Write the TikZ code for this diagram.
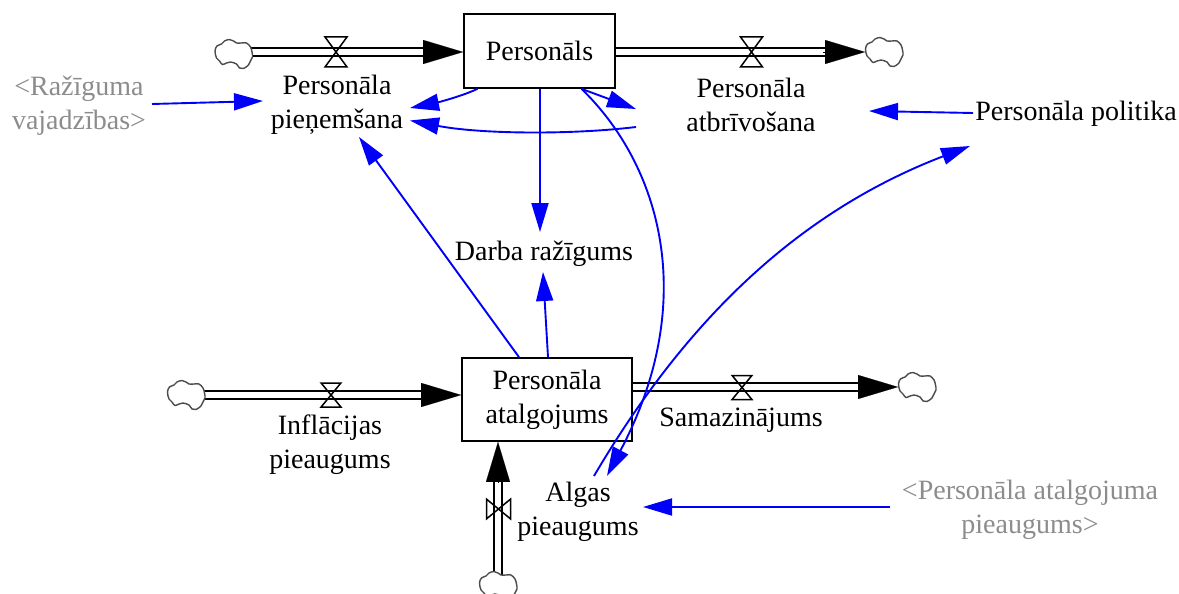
\documentclass[tikz,border=0pt]{standalone}
\usepackage{fontspec}
\setmainfont{Liberation Serif}
\usetikzlibrary{arrows.meta,calc}
\definecolor{infblue}{RGB}{0,0,250}
\definecolor{shadowtxt}{RGB}{140,140,140}
\tikzset{
  lbl/.style={align=center,inner sep=0pt,text=black,font=\fontsize{28}{34}\selectfont},
  shadow/.style={lbl,text=shadowtxt},
  stockbox/.style={draw=black,line width=1.7pt,fill=white,inner sep=0pt,lbl},
  pipe/.style={draw=black,line width=1.7pt,double=white,double distance=5.8pt},
  pipetip/.style={line width=0.1pt,-{Triangle[length=40pt,width=24pt]},black},
  inf/.style={draw=infblue,line width=1.9pt,-{Triangle[length=29pt,width=17pt]}},
  cloudpic/.pic={
    \draw[line width=1.4pt,draw=black!70,fill=white] plot[smooth cycle,tension=0.6] coordinates
      {(-18.5,-3) (-16.5,-8) (-12,-10) (-9,-13) (-4,-14.5) (0,-13) (3,-11) (8,-11) (13,-11) (17,-7) (18.5,-2)
       (19,3) (17,7) (15,11) (10,14.5) (6,14) (3,10) (-3,8) (-7,9) (-11,10.5) (-14,7) (-17,4)};
  },
  valvepic/.pic={
    \draw[line width=1.5pt,draw=black,fill=none,line join=miter]
      (-11,-15) -- (11,-15) -- (-11,15) -- (11,15) -- cycle;
  },
}
\begin{document}
\begin{tikzpicture}[x=1pt,y=-1pt]
\useasboundingbox (0,0) rectangle (1179,594);
\clip (0,0) rectangle (1179,594);

% stocks
\node[stockbox,minimum width=151pt,minimum height=74pt] (pers) at (539.5,51) {Personāls};
\node[stockbox,minimum width=170pt,minimum height=83pt] (alg) at (547,399.5) {Personāla\\atalgojums};

% labels
\node[lbl] (pien) at (337,105) {Personāla\\pieņemšana};
\node[lbl] (atbr) at (751,105) {Personāla\\atbrīvošana};
\node[lbl] (pol) at (1076,114) {Personāla politika};
\node[lbl] (darb) at (544,254) {Darba ražīgums};
\node[lbl] (infl) at (330,445) {Inflācijas\\pieaugums};
\node[lbl] (sam) at (741,420) {Samazinājums};
\node[lbl] (algp) at (578,512) {Algas\\pieaugums};
\node[shadow] (razv) at (79,106) {<Ražīguma\\vajadzības>};
\node[shadow] (alpa) at (1030,510) {<Personāla atalgojuma\\pieaugums>};

% clouds
\coordinate (c1) at (233.5,54);
\coordinate (c2) at (884,52);
\coordinate (c3) at (186,395);
\coordinate (c4) at (917,387);
\coordinate (c5) at (498,586);
\coordinate (t1) at (636,127);

% pipes
\draw[pipe] (c1 |- 0,52) -- (428,52);
\draw[pipe] (pers.east |- 0,52) -- (827,52);
\draw[pipe] (c3) -- (424,395);
\draw[pipe] (alg.east |- c4) -- (860,387);
\draw[pipe] (c5 -| 498,0) -- (498,481);
\draw[pipetip] (424,52) -- (pers.west |- 0,52);
\draw[pipetip] (823,52) -- (c2 -| 865,0);
\draw[pipetip] (422,395) -- (alg.west |- c3);
\draw[pipetip] (858,387) -- (c4 -| 898,0);
\draw[pipetip] (498,483) -- (alg.south -| 498,0);

\pic at (c1) {cloudpic};
\pic at (c2) {cloudpic};
\pic at (c3) {cloudpic};
\pic at (c4) {cloudpic};
\pic at (c5) {cloudpic};

% valves
\pic at (336,52) {valvepic};
\pic at (751.5,52) {valvepic};
\pic[xscale=0.9,yscale=0.8] at (331,395) {valvepic};
\pic[xscale=0.9,yscale=0.8] at (742,387.5) {valvepic};
\pic[rotate=90,yscale=0.8,xscale=0.9] at (498.5,509) {valvepic};

% information links
\draw[inf] ([shift={(73,-2)}]razv.center) -- ([shift={(-74,-4)}]pien.center);
\draw[inf] ([xshift=-62]pers.south) .. controls (460,97) and (435,103) .. ([shift={(73,3)}]pien.center);
\draw[inf] (t1) .. controls (570,135) and (480,134) .. ([shift={(73,15.5)}]pien.center);
\draw[inf] ([xshift=42]pers.south) -- ([shift={(-115,4)}]atbr.center);
\draw[inf] ([shift={(-103,-1)}]pol.center) -- ([shift={(-207,-3)}]pol.center);
\draw[inf] ([xshift=0.5]pers.south) -- ([shift={(-4,-22)}]darb.center);
\draw[inf] ([xshift=-28]alg.north) -- ([shift={(22,32)}]pien.center);
\draw[inf] ([xshift=1]alg.north) -- ([shift={(-1,18)}]darb.center);
\draw[inf] ([xshift=42]pers.south) .. controls (660,165) and (700,300) .. ([shift={(29,-36)}]algp.center);
\draw[inf] ([shift={(16,-36)}]algp.center) .. controls (680,330) and (790,215) .. ([shift={(-106,32)}]pol.center);
\draw[inf] ([xshift=-140]alpa.center |- algp.center) ++(0,-5) -- ([shift={(65,-5)}]algp.center);
\end{tikzpicture}
\end{document}
